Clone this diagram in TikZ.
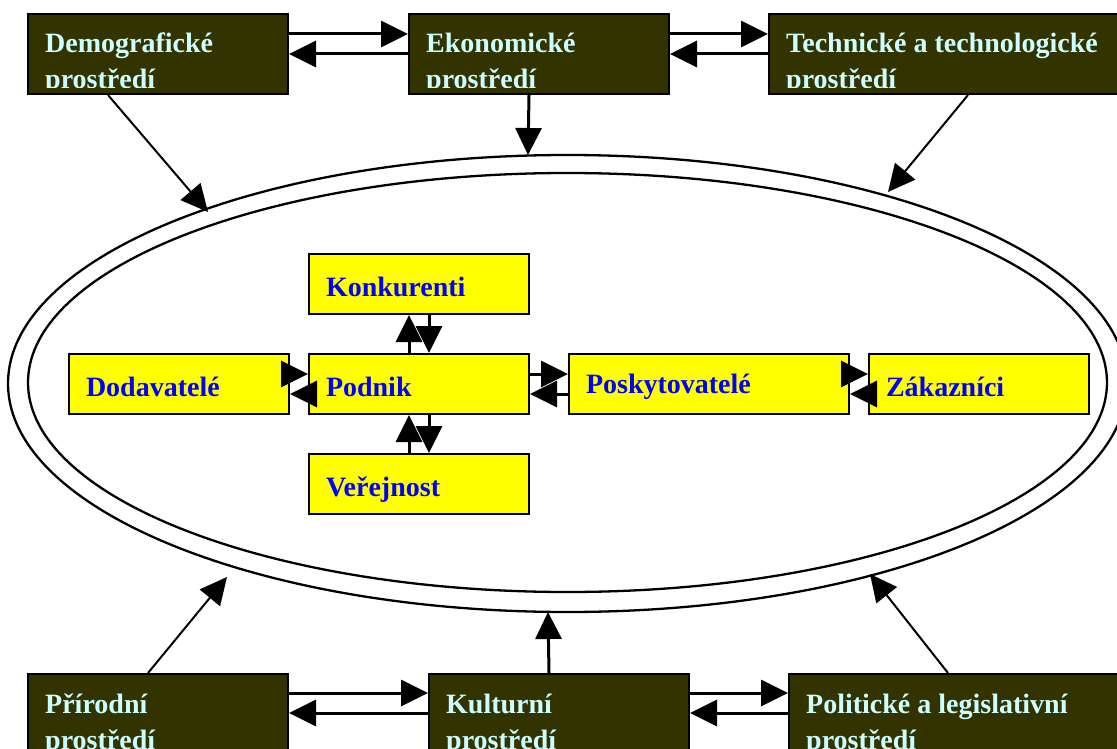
\documentclass[tikz,border=0pt]{standalone}
\usepackage{fontspec}
\setmainfont{Liberation Serif}
\usetikzlibrary{arrows.meta,shapes.geometric}
\definecolor{darkbox}{HTML}{333300}
\definecolor{lighttext}{HTML}{CCFFFF}
\definecolor{bluetext}{HTML}{0000FF}
\definecolor{boxyellow}{HTML}{FFFF00}
\newcommand\envlabel[3]{%
  \begin{scope}
    \clip (#1.north west) rectangle ([yshift=7pt]#1.south east);
    \node[envtext] (#1-l1) at ([xshift=18pt,yshift=-40pt]#1.north west) {#2};
    \node[envtext] (#1-l2) at ([xshift=18pt,yshift=-76pt]#1.north west) {#3};
  \end{scope}}
\begin{document}
\begin{tikzpicture}[x=1pt,y=-1pt,
  envbox/.style={draw=black,line width=2pt,fill=darkbox,minimum width=260pt,
    minimum height=80pt,inner sep=0pt,anchor=north west},
  envtext/.style={anchor=base west,inner sep=0pt,text=lighttext,
    font=\bfseries\fontsize{28}{30}\selectfont},
  actor/.style={draw=black,line width=2pt,fill=boxyellow,minimum width=220pt,
    minimum height=60pt,anchor=north west,inner xsep=17pt,inner ysep=0pt,
    text width=186pt,align=left,text height=26pt,text depth=2pt,text=bluetext,
    font=\bfseries\fontsize{28}{30}\selectfont},
  ring/.style={draw=black,line width=2.3pt,ellipse,inner sep=0pt},
  boxarrow/.style={line width=3pt,-{Triangle[length=27pt,width=26pt]}},
  diagarrow/.style={line width=2pt,-{Triangle[length=27pt,width=26pt]}}]
\useasboundingbox[fill=white] (0,0) rectangle (1117,749);

% ellipses
\node[ring,minimum width=1119pt,minimum height=457pt] (outer) at (567.5,383.5) {};
\node[ring,minimum width=1079pt,minimum height=419pt] (inner) at (567.5,382.5) {};

% environment boxes
\node[envbox] (demo) at (27,13) {};
\node[envbox] (ekon) at (408,13) {};
\node[envbox,minimum width=360pt] (tech) at (768,13) {};
\node[envbox] (prir) at (27,673) {};
\node[envbox] (kult) at (428,673) {};
\node[envbox,minimum width=360pt] (polit) at (788,673) {};
\envlabel{demo}{Demografické}{prostředí}
\envlabel{ekon}{Ekonomické}{prostředí}
\envlabel{tech}{Technické a technologické}{prostředí}
\envlabel{prir}{Přírodní}{prostředí}
\envlabel{kult}{Kulturní}{prostředí}
\envlabel{polit}{Politické a legislativní}{prostředí}

% actors
\node[actor] (konk) at (308,253) {Konkurenti};
\node[actor] (podnik) at (308,353) {Podnik};
\node[actor] (verej) at (308,453) {Veřejnost};
\node[actor] (dodav) at (68,353) {Dodavatelé};
\node[actor,minimum width=280pt,text width=246pt,text height=23pt,text depth=5pt] (posk) at (568,353) {Poskytovatelé};
\node[actor] (zak) at (868,353) {Zákazníci};

% tips on the ring
\coordinate (tDemo) at (208,212);
\coordinate (tTech) at (888,192);
\coordinate (tEkon) at (528,155);
\coordinate (tPrir) at (227,577);
\coordinate (tPolit) at (870,574);
\coordinate (tKult) at (548,612);

% top row arrows
\draw[boxarrow] ([yshift=20pt]demo.east) -- ([yshift=20pt]ekon.west);
\draw[boxarrow] (ekon.west) -- (demo.east);
\draw[boxarrow] ([yshift=20pt]ekon.east) -- ([yshift=20pt]tech.west);
\draw[boxarrow] (tech.west) -- (ekon.east);
% bottom row arrows
\draw[boxarrow] ([yshift=21pt]prir.east) -- ([yshift=21pt]kult.west);
\draw[boxarrow] ([yshift=1pt]kult.west) -- ([yshift=1pt]prir.east);
\draw[boxarrow] ([yshift=21pt]kult.east) -- ([yshift=21pt]polit.west);
\draw[boxarrow] ([yshift=1pt]polit.west) -- ([yshift=1pt]kult.east);

% to the ring
\draw[boxarrow] ([xshift=-10pt]ekon.south) -- (tEkon);
\draw[boxarrow] ([xshift=-10pt]kult.north) -- (tKult);
\draw[diagarrow] ([xshift=81pt]demo.south west) -- (tDemo);
\draw[diagarrow] ([xshift=200pt]tech.south west) -- (tTech);
\draw[diagarrow] ([xshift=121pt]prir.north west) -- (tPrir);
\draw[diagarrow] ([xshift=160pt]polit.north west) -- (tPolit);

% inner arrows
\draw[boxarrow] ([xshift=-10pt]podnik.north) -- ([xshift=-10pt]konk.south);
\draw[boxarrow] ([xshift=10pt]konk.south) -- ([xshift=10pt]podnik.north);
\draw[boxarrow] ([xshift=-10pt]verej.north) -- ([xshift=-10pt]podnik.south);
\draw[boxarrow] ([xshift=10pt]podnik.south) -- ([xshift=10pt]verej.north);
\draw[boxarrow] ([yshift=10pt]dodav.east) -- ([yshift=10pt]podnik.west);
\draw[boxarrow] ([yshift=-10pt]podnik.west) -- ([yshift=-10pt]dodav.east);
\draw[boxarrow] ([yshift=10pt]podnik.east) -- ([yshift=10pt]posk.west);
\draw[boxarrow] ([yshift=-10pt]posk.west) -- ([yshift=-10pt]podnik.east);
\draw[boxarrow] ([yshift=10pt]posk.east) -- ([yshift=10pt]zak.west);
\draw[boxarrow] ([yshift=-10pt]zak.west) -- ([yshift=-10pt]posk.east);
\end{tikzpicture}
\end{document}
